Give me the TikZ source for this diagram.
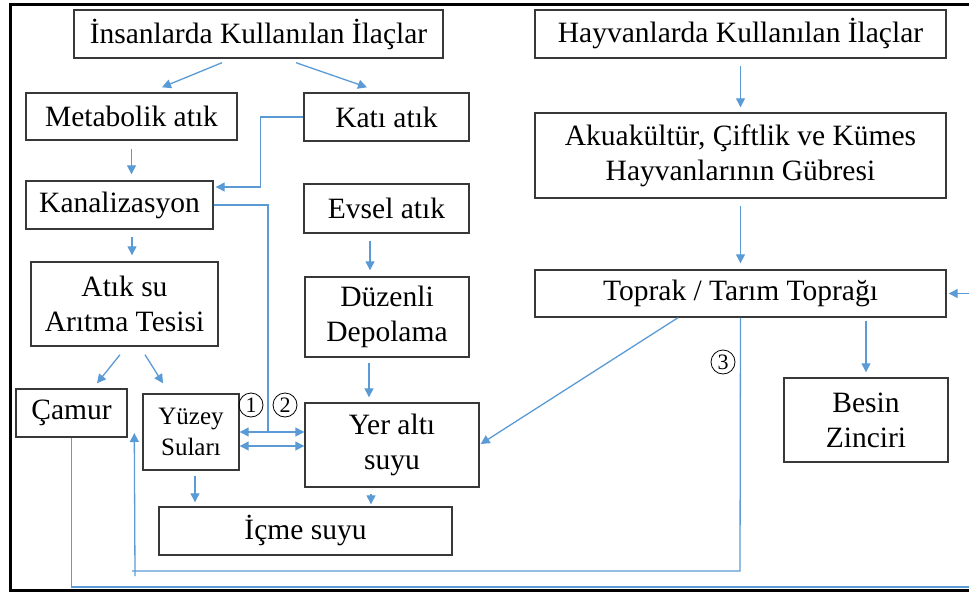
\documentclass[tikz,border=0pt]{standalone}
\usepackage{fontspec}
\setmainfont{Liberation Serif}
\usetikzlibrary{arrows.meta,calc}
\definecolor{blueline}{RGB}{91,155,213}
\tikzset{
  box/.style={draw=black!78, line width=1.4pt, fill=white, inner sep=0pt, align=center,
    font=\fontsize{29.5}{35}\selectfont},
  conn/.style={draw=blueline, line width=1.3pt},
  arr/.style={conn, -{Triangle[length=9pt,width=9pt]}},
  darr/.style={conn, {Triangle[length=9pt,width=9pt]}-{Triangle[length=9pt,width=9pt]}},
  num/.style={circle, draw=black, line width=0.8pt, inner sep=0pt, minimum size=24pt,
    font=\fontsize{22}{22}\selectfont},
  frame/.style={draw=black, line width=3pt}
}
\begin{document}
\begin{tikzpicture}[x=1pt,y=-1pt]
\useasboundingbox (0,0) rectangle (969,594);
% frame
\coordinate (f1) at (969,5);
\coordinate (f2) at (10,5);
\coordinate (f3) at (10,590);
\coordinate (f4) at (969,590);
\draw[frame] (f1) -- (f2) -- (f3) -- (f4);

% boxes
\node[box, minimum width=369pt, minimum height=48pt] (ins) at (258.5,34) {İnsanlarda Kullanılan İlaçlar};
\node[box, minimum width=411pt, minimum height=48pt] (hay) at (740.5,34) {Hayvanlarda Kullanılan İlaçlar};
\node[box, minimum width=211pt, minimum height=47pt] (met) at (131.5,116.5) {Metabolik atık};
\node[box, minimum width=165pt, minimum height=48pt] (kati) at (386.5,117) {Katı atık};
\node[box, minimum width=187pt, minimum height=48pt] (kan) at (119.5,205) {Kanalizasyon};
\node[box, minimum width=165pt, minimum height=49pt] (evsel) at (386.5,208.5) {Evsel atık};
\node[box, minimum width=187pt, minimum height=84pt] (atik) at (124.5,304) {Atık su\\Arıtma Tesisi};
\node[box, minimum width=164pt, minimum height=80pt] (duz) at (387,317) {Düzenli\\Depolama};
\node[box, minimum width=111pt, minimum height=48pt] (camur) at (71.5,413) {Çamur};
\node[box, minimum width=96pt, minimum height=76pt, font=\fontsize{25}{31}\selectfont] (yuzey) at (191,432) {Yüzey\\Suları};
\node[box, minimum width=174pt, minimum height=84pt] (yer) at (392,445) {Yer altı\\suyu};
\node[box, minimum width=293pt, minimum height=48pt] (icme) at (305.5,531) {İçme suyu};
\node[box, minimum width=411pt, minimum height=85pt] (aku) at (740.5,155.5) {Akuakültür, Çiftlik ve Kümes\\Hayvanlarının Gübresi};
\node[box, minimum width=411pt, minimum height=47pt] (toprak) at (740.5,293.5) {Toprak / Tarım Toprağı};
\node[box, minimum width=164pt, minimum height=84pt] (besin) at (866,420) {Besin\\Zinciri};

% circled numbers
\node[num] (c1) at (251,405) {1};
\node[num] (c2) at (285,405) {2};
\node[num] (c3) at (723,362) {3};

% connectors
\draw[arr] ($(ins.south)+(-36.5,4)$) -- ($(met.north)+(30.5,-5)$);
\draw[arr] ($(ins.south)+(37.5,4)$) -- ($(kati.north)+(-19.5,-5)$);
\draw[arr] ($(met.south)+(0,8)$) -- ($(kan.north)+(12,-6)$);
\draw[arr] (kati.west) -| ($(kan.east)+(47,-18)$) -- ($(kan.east)+(2,-18)$);
\draw[arr] ($(kan.south)+(12.5,7)$) -- ($(atik.north)+(7.5,-6)$);

\coordinate (j1) at (268,432);
\draw[conn] (kan.east) -| (j1);
\draw[arr] (j1) -- (yuzey.east);
\draw[arr] (j1) -- ($(yer.west)+(0,-13)$);
\draw[darr] ($(yuzey.east)+(0,14)$) -- ($(yer.west)+(0,1)$);

\draw[arr] ($(atik.south)+(-4.5,8)$) -- ($(camur.north)+(25.5,-5)$);
\draw[arr] ($(atik.south)+(20.5,8)$) -- ($(yuzey.north)+(-28,-10)$);
\draw[arr] ($(evsel.south)+(-16.5,7)$) -- ($(duz.north)+(-17,-6)$);
\draw[arr] ($(duz.south)+(-18,5)$) -- ($(yer.north)+(-23,-5)$);
\draw[arr] ($(yuzey.south)+(4,5)$) -- ($(icme.north)+(-110.5,-4)$);
\draw[arr] ($(yer.south)+(-21,6)$) -- ($(icme.north)+(65.5,-2)$);

\draw[arr] ($(hay.south)+(0,7)$) -- ($(aku.north)+(0,-5)$);
\draw[arr] ($(aku.south)+(0,7)$) -- ($(toprak.north)+(0,-6)$);
\draw[arr] ($(toprak.south)+(-62.5,0)$) -- ($(yer.east)+(1,-1)$);
\draw[arr] ($(toprak.south)+(125.5,3)$) -- ($(besin.north)+(0,-5)$);

\coordinate (rin) at (969,293.5);
\draw[arr] (rin) -- ($(toprak.east)+(2,0)$);

\coordinate (b3) at (740,571);
\coordinate (b3l) at (132,571);
\draw[conn] (toprak.south) -- (b3) -- (b3l);
\coordinate (b3v) at (135,576);
\draw[arr] (b3v) -- ($(yuzey.west)+(-8,1)$);

\coordinate (bot) at (969,587);
\draw[conn] (camur.south) |- (bot);
\end{tikzpicture}
\end{document}
